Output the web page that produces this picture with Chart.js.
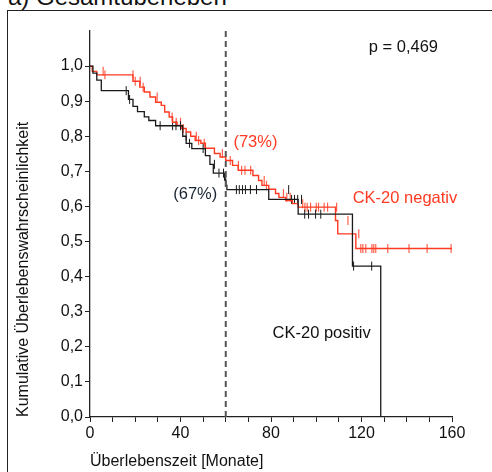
<!DOCTYPE html>
<html>
<head>
<meta charset="utf-8">
<script src="https://cdn.jsdelivr.net/npm/chart.js@4"></script>
<style>
  html, body { margin: 0; padding: 0; background: #fff; }
  #wrap { position: relative; width: 492px; height: 472px; overflow: hidden; }
  #frame { position: absolute; left: 7px; top: 10px; width: 600px; height: 600px; border: 1px solid #222; box-sizing: border-box; }
  #title { position: absolute; left: 8px; top: -15px; font: 24px "Liberation Sans", Arial, sans-serif; line-height: 24px; color: #111; white-space: nowrap; }
  canvas { position: absolute; left: 0; top: 0; }
</style>
</head>
<body>
<div id="wrap">
  <div id="frame"></div>
  <div id="title">a) Gesamtüberleben</div>
  <canvas id="km" width="492" height="472"></canvas>
</div>
<script>
// Kaplan-Meier steps (months, survival)
const posMonths = [0, 1.3, 3, 5, 17, 19, 21, 24, 26, 29, 41, 42.5, 45, 51, 53, 54.5, 59.5, 60, 60.5, 79, 92, 116, 128.5];
const posSurv   = [1.0, 0.98, 0.96, 0.93, 0.905, 0.885, 0.87, 0.855, 0.845, 0.83, 0.80, 0.78, 0.765, 0.745, 0.72, 0.695, 0.675, 0.66, 0.648, 0.62, 0.578, 0.43, 0];

const negMonths = [0, 1, 3, 19, 22, 24, 26.5, 29, 31.5, 33, 35, 36.5, 38.5, 40.5, 42.5, 44.5, 46.5, 49, 51, 55, 57.5, 60, 63, 65.5, 72, 74.5, 76, 79, 82, 83.5, 86.5, 89.5, 92, 108.5, 109.5, 117.5, 160.5];
const negSurv   = [1.0, 0.985, 0.975, 0.957, 0.94, 0.926, 0.912, 0.897, 0.888, 0.869, 0.855, 0.84, 0.831, 0.822, 0.812, 0.80, 0.788, 0.78, 0.766, 0.751, 0.741, 0.731, 0.717, 0.703, 0.688, 0.674, 0.66, 0.649, 0.637, 0.626, 0.617, 0.608, 0.598, 0.56, 0.522, 0.48, 0.48];

// censored cases (tick marks)
const posCensMonths = [16, 17.5, 31, 36.5, 38, 40, 42.5, 44, 50, 55, 57, 59, 60, 64.7, 66, 67.4, 68.7, 70.9, 73.6, 87.8, 89.1, 90.4, 91.8, 93.5, 94.9, 96.6, 99.7, 102, 116.5, 124.5];
const posCensSurv   = [0.93, 0.905, 0.83, 0.83, 0.83, 0.83, 0.80, 0.78, 0.765, 0.72, 0.695, 0.695, 0.675, 0.648, 0.648, 0.648, 0.648, 0.648, 0.648, 0.648, 0.62, 0.62, 0.62, 0.62, 0.578, 0.578, 0.578, 0.578, 0.43, 0.43];

const negCensMonths = [5.8, 6.6, 19, 20, 22.2, 23.5, 29.7, 36.3, 38.1, 40, 41.2, 47, 48, 50.5, 58.5, 62, 65.6, 67, 68.5, 71, 77, 78, 85.5, 87, 88.5, 94, 95, 96, 97.5, 100, 101, 103.5, 105, 109, 114, 118.8, 119.7, 120.6, 121.9, 124.6, 125.4, 126.3, 131.6, 141, 149, 159.6];
const negCensSurv   = [0.985, 0.975, 0.975, 0.957, 0.957, 0.94, 0.912, 0.855, 0.84, 0.84, 0.822, 0.80, 0.788, 0.78, 0.751, 0.731, 0.717, 0.703, 0.703, 0.703, 0.674, 0.66, 0.637, 0.626, 0.626, 0.608, 0.598, 0.598, 0.598, 0.598, 0.598, 0.598, 0.598, 0.598, 0.56, 0.522, 0.48, 0.48, 0.48, 0.48, 0.48, 0.48, 0.48, 0.48, 0.48, 0.48];

const cutoffMonth = 60;
const xTickLabels = [0, 40, 80, 120, 160];

const RED = "#ff3a22";
const BLACK = "#1a1a1a";
const FONT = "'Liberation Sans', Arial, sans-serif";

const pts = (xs, ys) => xs.map((x, i) => ({ x, y: ys[i] }));

// free-standing labels placed in data coordinates
const notes = [
  { text: "p = 0,469", x: 123.2, y: 1.054, color: "#111" },
  { text: "(73%)", x: 63.4, y: 0.781, color: RED },
  { text: "(67%)", x: 36.8, y: 0.633, color: "#1c2633" },
  { text: "CK-20 negativ", x: 116.1, y: 0.624, color: RED },
  { text: "CK-20 positiv", x: 80.7, y: 0.239, color: "#111" },
];

const notePlugin = {
  id: "notes",
  afterDatasetsDraw(chart) {
    const { ctx, scales } = chart;
    ctx.save();
    ctx.font = "16.5px " + FONT;
    ctx.textBaseline = "middle";
    ctx.textAlign = "left";
    notes.forEach(n => {
      ctx.fillStyle = n.color;
      ctx.fillText(n.text, scales.x.getPixelForValue(n.x), scales.y.getPixelForValue(n.y));
    });
    ctx.restore();
  }
};

new Chart(document.getElementById("km"), {
  type: "line",
  data: {
    datasets: [
      {
        data: [{ x: cutoffMonth, y: 0 }, { x: cutoffMonth, y: 1.1 }],
        borderColor: "#555",
        borderWidth: 2,
        borderDash: [6, 4],
        pointRadius: 0,
      },
      {
        label: "CK-20 positiv",
        data: pts(posMonths, posSurv),
        stepped: "before",
        borderColor: BLACK,
        borderWidth: 1.3,
        pointRadius: 0,
      },
      {
        label: "CK-20 negativ",
        data: pts(negMonths, negSurv),
        stepped: "before",
        borderColor: RED,
        borderWidth: 1.4,
        pointRadius: 0,
      },
      {
        type: "scatter",
        data: pts(posCensMonths, posCensSurv),
        pointStyle: "line",
        rotation: 90,
        pointRadius: 4.5,
        borderColor: BLACK,
        borderWidth: 1,
        showLine: false,
      },
      {
        type: "scatter",
        data: pts(negCensMonths, negCensSurv),
        pointStyle: "line",
        rotation: 90,
        pointRadius: 4.5,
        borderColor: "rgba(255,58,34,0.8)",
        borderWidth: 1.2,
        showLine: false,
      },
    ],
  },
  options: {
    responsive: false,
    animation: false,
    layout: { padding: { left: 10, right: 40, top: 31, bottom: 0 } },
    plugins: { legend: { display: false }, tooltip: { enabled: false } },
    scales: {
      x: {
        type: "linear",
        min: 0,
        max: 160,
        afterFit: s => { s.height = 55; },
        border: { display: true, color: "#222", width: 1.3 },
        grid: { drawOnChartArea: false, drawTicks: true, tickLength: 5, color: "#222" },
        ticks: {
          stepSize: 10,
          autoSkip: false,
          maxRotation: 0,
          padding: 2,
          color: "#111",
          font: { family: FONT, size: 16 },
          callback: v => (xTickLabels.includes(v) ? String(v) : ""),
        },
        title: {
          display: true,
          text: "Überlebenszeit [Monate]",
          align: "start",
          color: "#111",
          font: { family: FONT, size: 16 },
          padding: { top: 0, bottom: 1 },
        },
      },
      y: {
        min: 0,
        max: 1.1,
        afterFit: s => { s.width = 80; },
        afterBuildTicks: s => { s.ticks = s.ticks.filter(t => t.value <= 1.0001); },
        border: { display: true, color: "#222", width: 1.3 },
        grid: { drawOnChartArea: false, drawTicks: true, tickLength: 5, color: "#222" },
        ticks: {
          stepSize: 0.1,
          autoSkip: false,
          padding: 2,
          color: "#111",
          font: { family: FONT, size: 16 },
          callback: v => v.toFixed(1).replace(".", ","),
        },
        title: {
          display: true,
          text: "Kumulative Überlebenswahrscheinlichkeit",
          align: "start",
          color: "#111",
          font: { family: FONT, size: 16 },
          padding: { top: 4, bottom: 0 },
        },
      },
    },
  },
  plugins: [notePlugin],
});
</script>
</body>
</html>
